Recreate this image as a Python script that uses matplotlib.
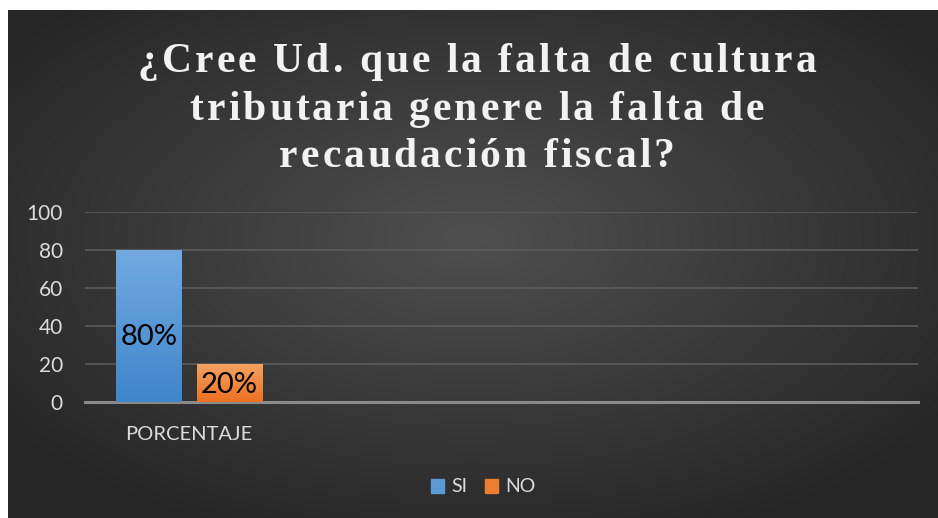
import matplotlib
matplotlib.use("Agg")
import matplotlib.pyplot as plt
import matplotlib.patches as mpatches
import numpy as np
from matplotlib import font_manager
from matplotlib.ft2font import FT2Font

# data
categories = ["PORCENTAJE", "", "", ""]
series_names = ["SI", "NO"]
si_values = [80]
no_values = [20]
bar_labels = ["80%", "20%"]
title_lines = ["¿Cree Ud. que la falta de cultura",
               "tributaria genere la falta de",
               "recaudación fiscal?"]

W, H, DPI = 938, 518, 100
fig = plt.figure(figsize=(W / DPI, H / DPI), dpi=DPI, facecolor="white")

# background with radial-ish gradient (chart area has white margin top/left)
bg = fig.add_axes([8 / W, 0, (W - 8) / W, (H - 10) / H])
yy, xx = np.mgrid[0:1:300j, 0:1:500j]
r = np.sqrt(((xx - 0.5) / 0.75) ** 2 + ((yy - 0.45) / 0.75) ** 2)
shade = np.clip(0.31 - 0.19 * r, 0.15, 0.31)
bg.imshow(np.dstack([shade] * 3), extent=[0, 1, 0, 1], aspect="auto",
          interpolation="bicubic")
bg.set_axis_off()

# plot area
ax = fig.add_axes([85 / W, (H - 402) / H, 833 / W, 190 / H])
ax.set_facecolor("none")
x = np.arange(len(categories))
bw, off = 0.3125, 0.1925


def gradient_bar(ax, xc, val, top, bottom):
    b = ax.bar(xc, val, bw, color="none", edgecolor="none", zorder=3)[0]
    c0 = np.array(matplotlib.colors.to_rgb(top))
    c1 = np.array(matplotlib.colors.to_rgb(bottom))
    t = np.linspace(0, 1, 100)[:, None]
    img = (c0 * (1 - t) + c1 * t)[:, None, :]
    im = ax.imshow(img, extent=[xc - bw / 2, xc + bw / 2, 0, val],
                   aspect="auto", zorder=3, interpolation="bicubic")
    im.set_clip_path(b)
    return b


gradient_bar(ax, x[0] - off, si_values[0], "#72a9e0", "#3f86cb")
gradient_bar(ax, x[0] + off, no_values[0], "#f4a262", "#ec7021")
# labels sit a little below the bar middle, as in the original
ax.text(x[0] - off, si_values[0] * 0.425, bar_labels[0], ha="center",
        va="center", fontsize=21, family="Lato", color="black", zorder=4)
ax.text(x[0] + off, no_values[0] * 0.44, bar_labels[1], ha="center",
        va="center", fontsize=21, family="Lato", color="black", zorder=4)

ax.set_xlim(-0.5, len(categories) - 0.5)
ax.set_ylim(0, 100)
ax.set_yticks(range(0, 101, 20))
ax.yaxis.grid(True, color="#5c5c5c", linewidth=1.2)
ax.set_axisbelow(True)
for s in ["top", "right", "left"]:
    ax.spines[s].set_visible(False)
ax.spines["bottom"].set_color("#8a8a8a")
ax.spines["bottom"].set_linewidth(2.2)
ax.tick_params(axis="y", length=0, pad=16, labelsize=15, labelcolor="#dcdcdc")
ax.set_xticks([0])
ax.set_xticklabels([categories[0]])
ax.tick_params(axis="x", length=0, pad=17, labelsize=14.5, labelcolor="#dcdcdc")
for lab in ax.get_xticklabels() + ax.get_yticklabels():
    lab.set_family("Lato")

# title with letter spacing, drawn glyph by glyph
fp = font_manager.FontProperties(family="Liberation Serif", weight="bold")
ft = FT2Font(font_manager.findfont(fp))
fsize = 30
ft.set_size(fsize, DPI)


def advance(ch):
    g = ft.load_char(ord(ch))
    return g.linearHoriAdvance / 65536.0


natural = sum(advance(c) for c in title_lines[0])
spacing = (678 - natural) / (len(title_lines[0]) - 1)
baselines = [72, 119.5, 167]
cx = 477
for line, base in zip(title_lines, baselines):
    widths = [advance(c) for c in line]
    total = sum(widths) + spacing * (len(line) - 1)
    px = cx - total / 2
    for ch, w in zip(line, widths):
        if ch != " ":
            fig.text(px / W, (H - base) / H, ch, ha="left", va="baseline",
                     fontproperties=fp, fontsize=fsize, color="#f2f2f2")
        px += w + spacing

# legend
handles = [mpatches.Patch(color="#5b9bd5", label=series_names[0]),
           mpatches.Patch(color="#ed7d31", label=series_names[1])]
fig.legend(handles=handles, loc="center", bbox_to_anchor=(483 / W, 31 / H),
           ncol=2, frameon=False, labelcolor="#dcdcdc",
           handlelength=0.7, handleheight=0.7, handletextpad=0.35,
           columnspacing=0.9, prop={"family": "Lato", "size": 14})

fig.savefig("out.png", dpi=DPI, facecolor="white")
